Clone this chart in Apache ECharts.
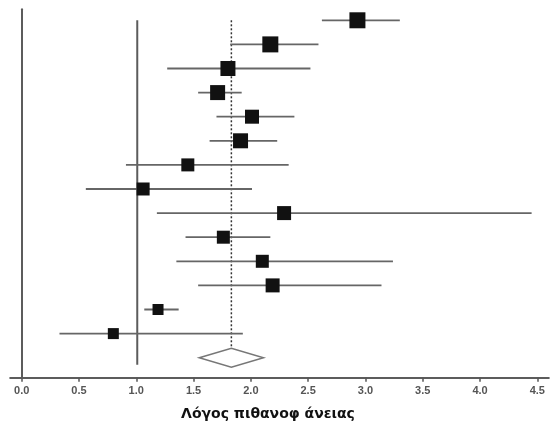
<!DOCTYPE html>
<html>
<head>
<meta charset="utf-8">
<script src="https://cdn.jsdelivr.net/npm/echarts@6/dist/echarts.min.js"></script>
<style>
  html, body { margin: 0; background: #fff; }
  #chart { width: 554px; height: 431px; }
</style>
</head>
<body>
<div id="chart"></div>
<script>
// odds ratio per study, with confidence limits
const estimates = [2.93, 2.17, 1.80, 1.71, 2.01, 1.91, 1.45, 1.06, 2.29, 1.76, 2.10, 2.19, 1.19, 0.80];
const lower     = [2.62, 1.82, 1.27, 1.54, 1.70, 1.64, 0.91, 0.56, 1.18, 1.43, 1.35, 1.54, 1.07, 0.33];
const upper     = [3.30, 2.59, 2.52, 1.92, 2.38, 2.23, 2.33, 2.01, 4.45, 2.17, 3.24, 3.14, 1.37, 1.93];
const weights   = [16, 16, 15, 15, 14, 15, 13, 13, 14, 13, 13, 14, 11, 11];
const pooled    = [1.83, 1.55, 2.11]; // estimate, lower, upper
const nullValue = 1.0;
const tickValues = [0, 0.5, 1.0, 1.5, 2.0, 2.5, 3.0, 3.5, 4.0, 4.5];

const rows = estimates.map((_, i) => i);
const pooledRow = estimates.length;

const chart = echarts.init(document.getElementById('chart'));

chart.setOption({
  animation: false,
  grid: { left: 10.2, right: 5.2, top: 9.3, bottom: 53.3 },
  xAxis: {
    type: 'value',
    min: -0.1,
    max: 4.6,
    axisLine: { onZero: false, lineStyle: { color: '#5c5c5c', width: 2 } },
    axisTick: { customValues: tickValues, length: 4, lineStyle: { color: '#555', width: 1.5 } },
    axisLabel: {
      customValues: tickValues,
      formatter: v => v.toFixed(1),
      margin: 8,
      color: '#555',
      fontSize: 11,
      fontWeight: 'bold',
      fontFamily: 'Liberation Sans'
    },
    splitLine: { show: false },
    name: 'Λόγος πιθανοφ άνειας',
    nameLocation: 'middle',
    nameGap: 30,
    nameTextStyle: {
      color: '#111',
      fontSize: 14,
      fontWeight: 'bold',
      fontFamily: 'DejaVu Sans',
      padding: [0, 23, 0, 0]
    }
  },
  yAxis: {
    type: 'value',
    inverse: true,
    min: -0.456,
    max: 14.83,
    axisLine: { show: true, onZero: true, lineStyle: { color: '#5c5c5c', width: 2 } },
    axisTick: { show: false },
    axisLabel: { show: false },
    splitLine: { show: false }
  },
  series: [
    {
      // null line, pooled line and diamond
      type: 'custom',
      data: [[pooled[0], pooledRow, pooled[1], pooled[2]]],
      encode: { x: [0, 2, 3], y: 1 },
      renderItem: (params, api) => {
        const est = api.value(0), row = api.value(1);
        const lo = api.value(2), hi = api.value(3);
        const c = api.coord([est, row]);
        const l = api.coord([lo, row]);
        const r = api.coord([hi, row]);
        const top0 = api.coord([est, 0]);
        const n0 = api.coord([nullValue, 0]);
        const n1 = api.coord([nullValue, row]);
        const h = 9.5;
        return {
          type: 'group',
          children: [
            { type: 'line', shape: { x1: n0[0] + 1, y1: n0[1], x2: n1[0] + 1, y2: n1[1] + 7 },
              style: { stroke: '#5c5c5c', lineWidth: 2 } },
            { type: 'line', shape: { x1: c[0], y1: top0[1], x2: c[0], y2: c[1] - h },
              style: { stroke: '#333', lineWidth: 1.5, lineDash: [2, 2] } },
            { type: 'polygon',
              shape: { points: [[l[0], c[1]], [c[0], c[1] - h], [r[0], c[1]], [c[0], c[1] + h]] },
              style: { fill: '#fff', stroke: '#777', lineWidth: 1.5 } }
          ]
        };
      }
    },
    {
      // confidence intervals
      type: 'custom',
      data: rows.map(i => [lower[i], i, upper[i]]),
      encode: { x: [0, 2], y: 1 },
      renderItem: (params, api) => {
        const a = api.coord([api.value(0), api.value(1)]);
        const b = api.coord([api.value(2), api.value(1)]);
        return {
          type: 'line',
          shape: { x1: a[0], y1: a[1], x2: b[0], y2: b[1] },
          style: { stroke: '#666', lineWidth: 1.8 }
        };
      }
    },
    {
      type: 'scatter',
      symbol: 'rect',
      data: rows.map(i => [estimates[i], i, weights[i]]),
      symbolSize: d => d[2],
      itemStyle: { color: '#111', opacity: 1 }
    }
  ]
});
</script>
</body>
</html>
